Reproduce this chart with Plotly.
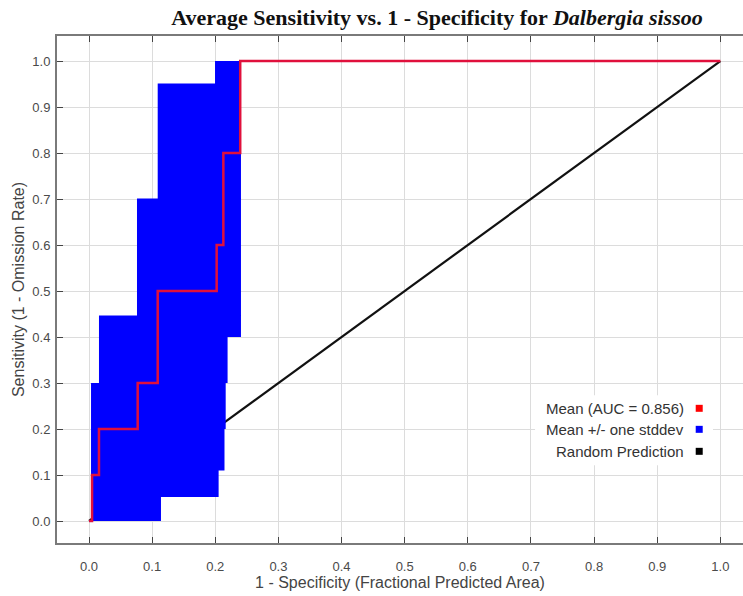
import plotly.graph_objects as go

# ---- data ----
mean_x = [0.0, 0.0048, 0.0158, 0.0771, 0.1088, 0.2022, 0.2128, 0.2395, 1.0]
mean_y = [0.0, 0.1, 0.2, 0.3, 0.5, 0.6, 0.8, 1.0, 1.0]

upper_x = [0.0032, 0.0158, 0.0760, 0.1088, 0.1996, 0.2407]
upper_y = [0.30, 0.447, 0.701, 0.951, 1.0, 1.0]

lower_x = [0.0032, 0.1140, 0.2053, 0.2146, 0.2165, 0.2195, 0.2407]
lower_y = [0.0, 0.052, 0.110, 0.200, 0.300, 0.400, 0.400]

random_x = [0.0, 1.0]
random_y = [0.0, 1.0]

tick_vals = [round(i * 0.1, 1) for i in range(11)]
tick_text = [f"{v:.1f}" for v in tick_vals]

legend_names = ["Mean (AUC = 0.856)", "Mean +/- one stddev", "Random Prediction"]
legend_colors = ["#ff0000", "#0000ff", "#000000"]

RED = "#e0103c"
BLUE = "#0000ff"

fig = go.Figure()
fig.add_trace(go.Scatter(x=random_x, y=random_y, mode="lines",
                         line=dict(color="#111111", width=2.2), showlegend=False,
                         hoverinfo="skip"))
fig.add_trace(go.Scatter(x=lower_x, y=lower_y, mode="lines", line_shape="hv",
                         line=dict(color=BLUE, width=0), showlegend=False,
                         hoverinfo="skip"))
fig.add_trace(go.Scatter(x=upper_x, y=upper_y, mode="lines", line_shape="hv",
                         line=dict(color=BLUE, width=0), fill="tonexty",
                         fillcolor=BLUE, showlegend=False, hoverinfo="skip"))
fig.add_trace(go.Scatter(x=mean_x, y=mean_y, mode="lines", line_shape="hv",
                         line=dict(color=RED, width=2.5), showlegend=False))

# legend (white box, right-aligned labels, swatches at right)
shapes = [dict(type="rect", xref="x", yref="y", x0=0.7065, x1=0.9884, y0=0.121, y1=0.2733,
               fillcolor="white", line=dict(width=0), layer="above")]
annotations = []
leg_y = [0.245, 0.1993, 0.1515]
for name, col, yy in zip(legend_names, legend_colors, leg_y):
    annotations.append(dict(x=0.9457, y=yy, xref="x", yref="y", text=name,
                            showarrow=False, xanchor="right", yanchor="middle",
                            font=dict(family="Liberation Sans, Arial", size=15, color="#333333")))
    shapes.append(dict(type="rect", xref="x", yref="y", x0=0.9610, x1=0.9721,
                       y0=yy - 0.0076, y1=yy + 0.0076, fillcolor=col,
                       line=dict(width=0), layer="above"))

axis_common = dict(
    tickvals=tick_vals, ticktext=tick_text,
    showgrid=True, gridcolor="#dcdcdc", gridwidth=1,
    zeroline=False, showline=True, linecolor="#7a7a7a", linewidth=2,
    ticks="inside", ticklen=6, tickcolor="#444444", tickwidth=1.2,
    tickfont=dict(family="Liberation Sans, Arial", size=13, color="#4a4a4a"),
    title_font=dict(family="Liberation Sans, Arial", size=16, color="#444444"),
)

fig.update_layout(
    width=743, height=596,
    margin=dict(l=57, r=0, t=36, b=53),
    paper_bgcolor="white", plot_bgcolor="white",
    title=dict(text="Average Sensitivity vs. 1 - Specificity for <i>Dalbergia sissoo</i>",
               x=437 / 743, xanchor="center", y=1 - 17 / 596, yanchor="middle",
               xref="container", yref="container",
               font=dict(family="Liberation Serif, Times New Roman", size=22, color="#111111",
                         weight="bold")),
    xaxis=dict(range=[-0.0507, 1.0359], mirror="ticks",
               title=dict(text="1 - Specificity (Fractional Predicted Area)", standoff=2),
               ticklabelstandoff=10, **axis_common),
    yaxis=dict(range=[-0.0478, 1.0544],
               title=dict(text="Sensitivity (1 - Omission Rate)", standoff=4),
               ticklabelstandoff=2, **axis_common),
    shapes=shapes, annotations=annotations,
)

fig.write_html("out.html")
